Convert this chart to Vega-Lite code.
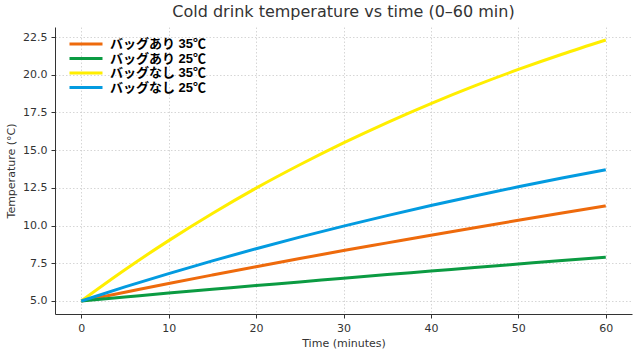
{
  "$schema": "https://vega.github.io/schema/vega-lite/v6.json",
  "width": 577,
  "height": 287,
  "autosize": {"type": "none"},
  "padding": {"left": 55, "top": 27, "right": 8, "bottom": 39},
  "background": "white",
  "title": {"text": "Cold drink temperature vs time (0–60 min)", "font": "DejaVu Sans", "fontSize": 16, "fontWeight": "normal", "color": "#333333", "offset": 7},
  "config": {
    "view": {"stroke": null},
    "axis": {"labelFont": "DejaVu Sans", "titleFont": "DejaVu Sans", "labelFontSize": 11, "titleFontSize": 11, "titleFontWeight": "normal", "labelColor": "#333333", "titleColor": "#333333", "domainColor": "#333333", "tickColor": "#333333", "tickSize": 4, "gridColor": "#cccccc", "gridDash": [1.5, 2], "gridWidth": 0.8, "labelPadding": 4}
  },
  "data": {"values": [
    {"t": 0, "T": 5.00, "s": "バッグあり 35℃"}, {"t": 5, "T": 5.58, "s": "バッグあり 35℃"}, {"t": 10, "T": 6.16, "s": "バッグあり 35℃"}, {"t": 15, "T": 6.72, "s": "バッグあり 35℃"}, {"t": 20, "T": 7.27, "s": "バッグあり 35℃"}, {"t": 25, "T": 7.81, "s": "バッグあり 35℃"}, {"t": 30, "T": 8.34, "s": "バッグあり 35℃"}, {"t": 35, "T": 8.85, "s": "バッグあり 35℃"}, {"t": 40, "T": 9.36, "s": "バッグあり 35℃"}, {"t": 45, "T": 9.86, "s": "バッグあり 35℃"}, {"t": 50, "T": 10.35, "s": "バッグあり 35℃"}, {"t": 55, "T": 10.83, "s": "バッグあり 35℃"}, {"t": 60, "T": 11.30, "s": "バッグあり 35℃"},
    {"t": 0, "T": 5.00, "s": "バッグあり 25℃"}, {"t": 5, "T": 5.26, "s": "バッグあり 25℃"}, {"t": 10, "T": 5.52, "s": "バッグあり 25℃"}, {"t": 15, "T": 5.77, "s": "バッグあり 25℃"}, {"t": 20, "T": 6.02, "s": "バッグあり 25℃"}, {"t": 25, "T": 6.26, "s": "バッグあり 25℃"}, {"t": 30, "T": 6.51, "s": "バッグあり 25℃"}, {"t": 35, "T": 6.75, "s": "バッグあり 25℃"}, {"t": 40, "T": 6.98, "s": "バッグあり 25℃"}, {"t": 45, "T": 7.22, "s": "バッグあり 25℃"}, {"t": 50, "T": 7.45, "s": "バッグあり 25℃"}, {"t": 55, "T": 7.68, "s": "バッグあり 25℃"}, {"t": 60, "T": 7.90, "s": "バッグあり 25℃"},
    {"t": 0, "T": 5.00, "s": "バッグなし 35℃"}, {"t": 5, "T": 7.07, "s": "バッグなし 35℃"}, {"t": 10, "T": 9.00, "s": "バッグなし 35℃"}, {"t": 15, "T": 10.80, "s": "バッグなし 35℃"}, {"t": 20, "T": 12.48, "s": "バッグなし 35℃"}, {"t": 25, "T": 14.03, "s": "バッグなし 35℃"}, {"t": 30, "T": 15.48, "s": "バッグなし 35℃"}, {"t": 35, "T": 16.83, "s": "バッグなし 35℃"}, {"t": 40, "T": 18.09, "s": "バッグなし 35℃"}, {"t": 45, "T": 19.26, "s": "バッグなし 35℃"}, {"t": 50, "T": 20.35, "s": "バッグなし 35℃"}, {"t": 55, "T": 21.36, "s": "バッグなし 35℃"}, {"t": 60, "T": 22.30, "s": "バッグなし 35℃"},
    {"t": 0, "T": 5.00, "s": "バッグなし 25℃"}, {"t": 5, "T": 5.93, "s": "バッグなし 25℃"}, {"t": 10, "T": 6.81, "s": "バッグなし 25℃"}, {"t": 15, "T": 7.66, "s": "バッグなし 25℃"}, {"t": 20, "T": 8.46, "s": "バッグなし 25℃"}, {"t": 25, "T": 9.23, "s": "バッグなし 25℃"}, {"t": 30, "T": 9.96, "s": "バッグなし 25℃"}, {"t": 35, "T": 10.66, "s": "バッグなし 25℃"}, {"t": 40, "T": 11.33, "s": "バッグなし 25℃"}, {"t": 45, "T": 11.96, "s": "バッグなし 25℃"}, {"t": 50, "T": 12.57, "s": "バッグなし 25℃"}, {"t": 55, "T": 13.15, "s": "バッグなし 25℃"}, {"t": 60, "T": 13.70, "s": "バッグなし 25℃"}
  ]},
  "mark": {"type": "line", "strokeWidth": 3, "interpolate": "monotone"},
  "encoding": {
    "x": {"field": "t", "type": "quantitative", "title": "Time (minutes)", "scale": {"domain": [-3, 63], "nice": false, "zero": false}, "axis": {"values": [0, 10, 20, 30, 40, 50, 60], "titlePadding": 4}},
    "y": {"field": "T", "type": "quantitative", "title": "Temperature (°C)", "scale": {"domain": [4.135, 23.165], "nice": false, "zero": false}, "axis": {"values": [5, 7.5, 10, 12.5, 15, 17.5, 20, 22.5], "format": ".1f", "titlePadding": 6}},
    "color": {"field": "s", "type": "nominal", "sort": null,
      "scale": {"domain": ["バッグあり 35℃", "バッグあり 25℃", "バッグなし 35℃", "バッグなし 25℃"], "range": ["#EE6A0C", "#0B9B42", "#FFEE00", "#039BE0"]},
      "legend": {"title": null, "orient": "none", "legendX": 24, "legendY": 10, "padding": 0, "symbolType": "M-3,0H3", "symbolSize": 121, "symbolStrokeWidth": 3, "symbolFillColor": "transparent", "labelFont": "Liberation Sans, Noto Sans CJK JP", "labelFontWeight": "bold", "labelFontSize": 13, "labelColor": "#000000", "rowPadding": 0.5, "labelOffset": 17}
    }
  }
}
